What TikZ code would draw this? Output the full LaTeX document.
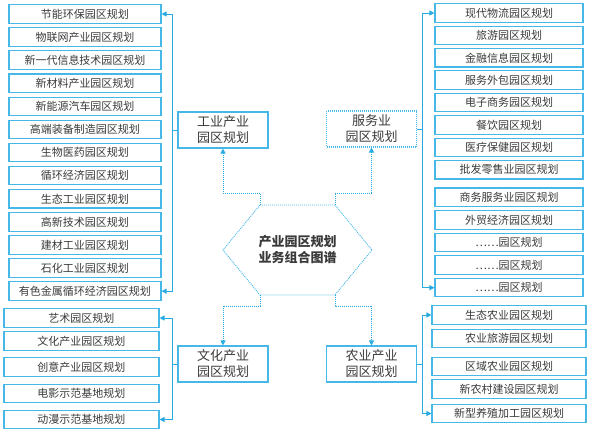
\documentclass[tikz,border=0pt]{standalone}
\usepackage{fontspec}
\setmainfont{Noto Sans CJK SC}
\usetikzlibrary{positioning, arrows.meta}

\definecolor{lineblue}{HTML}{29ABE2}
\definecolor{boxblue}{HTML}{45B8E8}
\definecolor{txtgray}{HTML}{3A3A3A}

\tikzset{
  item/.style={draw=boxblue, line width=1.1pt, minimum height=18.5pt, inner sep=0pt,
    text=txtgray, font=\fontsize{11}{12}\selectfont},
  indbox/.style={item, minimum width=152pt},
  srvbox/.style={item, minimum width=148pt},
  culbox/.style={item, minimum width=155pt},
  agrbox/.style={item, minimum width=154pt},
  group/.style={draw=boxblue, line width=1.1pt, minimum width=90pt, minimum height=36pt,
    inner sep=0pt, align=center, text=txtgray, font=\fontsize{13}{16}\selectfont},
  dotted line/.style={dash pattern=on 1pt off 1pt},
  link/.style={draw=lineblue, line width=0.9pt, -{Triangle[length=5pt,width=5pt]}},
  dotlink/.style={link, dotted line},
}

\begin{document}
\begin{tikzpicture}[x=1pt, y=-1pt, node distance=23.1pt, on grid]
  \useasboundingbox (0,0) rectangle (590,433);

  % hub hexagon
  \coordinate (hx_tl) at (260,205);
  \coordinate (hx_tr) at (335,205);
  \coordinate (hx_r) at (372,250);
  \coordinate (hx_br) at (335,295);
  \coordinate (hx_bl) at (260,295);
  \coordinate (hx_l) at (223,250);
  \draw[boxblue, line width=0.9pt, dotted line]
    (hx_tl) -- (hx_tr) -- (hx_r) -- (hx_br) -- (hx_bl) -- (hx_l) -- cycle;
  \node[align=center, text=txtgray, font=\fontsize{13}{16}\selectfont\bfseries] (hub) at (297.5,250)
    {产业园区规划\\业务组合图谱};

  % four groups
  \node[group] (ind) at (223,130) {工业产业\\园区规划};
  \node[group, dotted line] (srv) at (371.5,129) {服务业\\园区规划};
  \node[group] (cul) at (223,364) {文化产业\\园区规划};
  \node[group] (agr) at (371.5,364) {农业产业\\园区规划};

  % industry column
  \node[indbox] (ind_1) at (85,14) {节能环保园区规划};
  \node[indbox] (ind_2) [below=of ind_1] {物联网产业园区规划};
  \node[indbox] (ind_3) [below=of ind_2] {新一代信息技术园区规划};
  \node[indbox] (ind_4) [below=of ind_3] {新材料产业园区规划};
  \node[indbox] (ind_5) [below=of ind_4] {新能源汽车园区规划};
  \node[indbox] (ind_6) [below=of ind_5] {高端装备制造园区规划};
  \node[indbox] (ind_7) [below=of ind_6] {生物医药园区规划};
  \node[indbox] (ind_8) [below=of ind_7] {循环经济园区规划};
  \node[indbox] (ind_9) [below=of ind_8] {生态工业园区规划};
  \node[indbox] (ind_10) [below=of ind_9] {高新技术园区规划};
  \node[indbox] (ind_11) [below=of ind_10] {建材工业园区规划};
  \node[indbox] (ind_12) [below=of ind_11] {石化工业园区规划};
  \node[indbox] (ind_13) [below=of ind_12] {有色金属循环经济园区规划};

  % service column
  \node[srvbox] (srv_1) at (509,13) {现代物流园区规划};
  \node[srvbox] (srv_2) [below=22.4pt of srv_1] {旅游园区规划};
  \node[srvbox] (srv_3) [below=22.4pt of srv_2] {金融信息园区规划};
  \node[srvbox] (srv_4) [below=22.4pt of srv_3] {服务外包园区规划};
  \node[srvbox] (srv_5) [below=22.4pt of srv_4] {电子商务园区规划};
  \node[srvbox] (srv_6) [below=22.4pt of srv_5] {餐饮园区规划};
  \node[srvbox] (srv_7) [below=22.4pt of srv_6] {医疗保健园区规划};
  \node[srvbox] (srv_8) [below=22.4pt of srv_7] {批发零售业园区规划};
  \node[srvbox] (srv_9) [below=27.5pt of srv_8] {商务服务业园区规划};
  \node[srvbox] (srv_10) [below=22.6pt of srv_9] {外贸经济园区规划};
  \node[srvbox] (srv_11) [below=22.6pt of srv_10] {……园区规划};
  \node[srvbox] (srv_12) [below=22.6pt of srv_11] {……园区规划};
  \node[srvbox] (srv_13) [below=22.6pt of srv_12] {……园区规划};

  % culture column
  \node[culbox] (cul_1) at (81.5,318) {艺术园区规划};
  \node[culbox] (cul_2) [below=23pt of cul_1] {文化产业园区规划};
  \node[culbox] (cul_3) [below=26pt of cul_2] {创意产业园区规划};
  \node[culbox] (cul_4) [below=26.5pt of cul_3] {电影示范基地规划};
  \node[culbox] (cul_5) [below=26pt of cul_4] {动漫示范基地规划};

  % agriculture column
  \node[agrbox] (agr_1) at (509,315) {生态农业园区规划};
  \node[agrbox] (agr_2) [below=23.5pt of agr_1] {农业旅游园区规划};
  \node[agrbox] (agr_3) [below=28pt of agr_2] {区域农业园区规划};
  \node[agrbox] (agr_4) [below=22.5pt of agr_3] {新农村建设园区规划};
  \node[agrbox] (agr_5) [below=24.5pt of agr_4] {新型养殖加工园区规划};

  % spines
  \coordinate (ind_spine) at ([xshift=-5pt]ind.west);
  \coordinate (srv_spine) at ([xshift=5pt]srv.east);
  \coordinate (cul_spine) at ([xshift=-5pt]cul.west);
  \coordinate (agr_spine) at ([xshift=5pt]agr.east);

  \draw[lineblue, line width=0.9pt] (ind.west) -- (ind_spine);
  \draw[link] (ind_spine) |- (ind_1.east);
  \draw[link] (ind_spine) |- (ind_13.east);

  \draw[lineblue, line width=0.9pt] (srv.east) -- (srv_spine);
  \draw[link] (srv_spine) |- (srv_1.west);
  \draw[link] (srv_spine) |- (srv_13.west);

  \draw[lineblue, line width=0.9pt] (cul.west) -- (cul_spine);
  \draw[link] (cul_spine) |- (cul_1.east);
  \draw[link] (cul_spine) |- (cul_5.east);

  \draw[lineblue, line width=0.9pt] (agr.east) -- (agr_spine);
  \draw[link] (agr_spine) |- (agr_1.west);
  \draw[link] (agr_spine) |- (agr_5.west);

  % hub to groups
  \draw[dotlink] (hx_tl) -- ++(0,-12) -| (ind.south);
  \draw[dotlink] (hx_tr) -- ++(0,-12) -| (srv.south);
  \draw[dotlink] (hx_bl) -- ++(0,11) -| (cul.north);
  \draw[dotlink] (hx_br) -- ++(0,11) -| (agr.north);
\end{tikzpicture}
\end{document}
